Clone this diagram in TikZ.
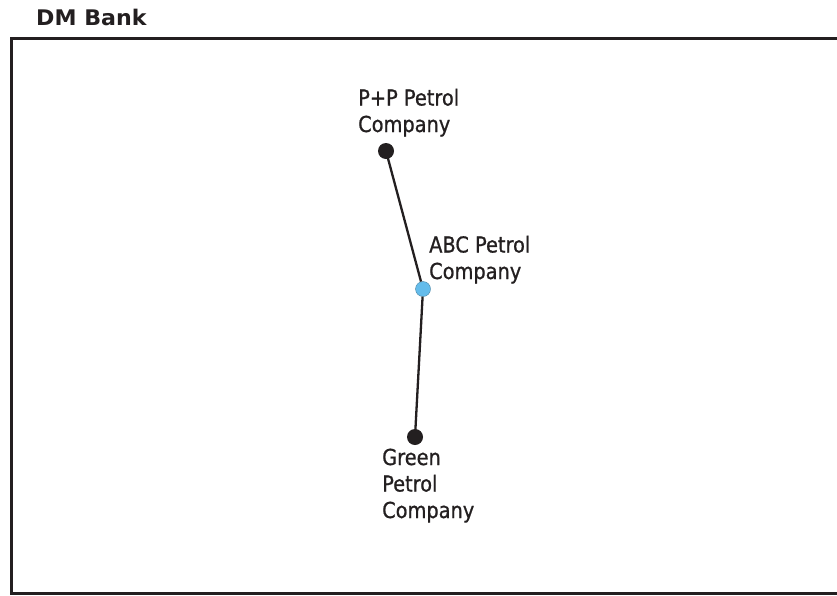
\documentclass[tikz,border=0pt]{standalone}
\usepackage{fontspec}
\setmainfont{DejaVu Sans}[FakeStretch=0.88,FakeBold=0.8]
\newfontfamily\titlefont{DejaVu Sans Bold}[FakeStretch=1.03]
\definecolor{ink}{RGB}{35,31,32}
\definecolor{abcblue}{RGB}{100,188,235}
\begin{document}
\begin{tikzpicture}[x=1pt,y=-1pt,
  lbl/.style={anchor=base west,inner sep=0pt,align=left,text=ink,
    font=\fontsize{22}{26.5}\selectfont},
  dotblack/.style={circle,fill=ink,minimum size=16pt,inner sep=0pt},
  dotblue/.style={circle,fill=abcblue,draw=abcblue!70!black,line width=0.4pt,minimum size=15pt,inner sep=0pt},
  link/.style={draw=ink,line width=2.3pt}]
\useasboundingbox (0,0) rectangle (837,595);
\clip (0,0) rectangle (837,595);
\fill[white] (0,0) rectangle (837,595);
\draw[ink,line width=3pt] (845,38.5) -- (11.5,38.5) -- (11.5,593) -- (845,593);
\node[anchor=base west,inner sep=0pt,text=ink,font=\titlefont\fontsize{21.5}{26}\selectfont] (title) at (36,25) {DM Bank};
\node[dotblack] (pp) at (386,151) {};
\node[dotblue] (abc) at (423,289) {};
\node[dotblack] (green) at (415,437) {};
\draw[link] (pp.center) -- (abc);
\draw[link] (abc) -- (green.center);
\node[lbl] (pplbl) at (358,132) {P+P Petrol\\Company};
\node[lbl] (abclbl) at (429,279) {ABC Petrol\\Company};
\node[lbl] (greenlbl) at (382,518) {Green\\Petrol\\Company};
\end{tikzpicture}
\end{document}
